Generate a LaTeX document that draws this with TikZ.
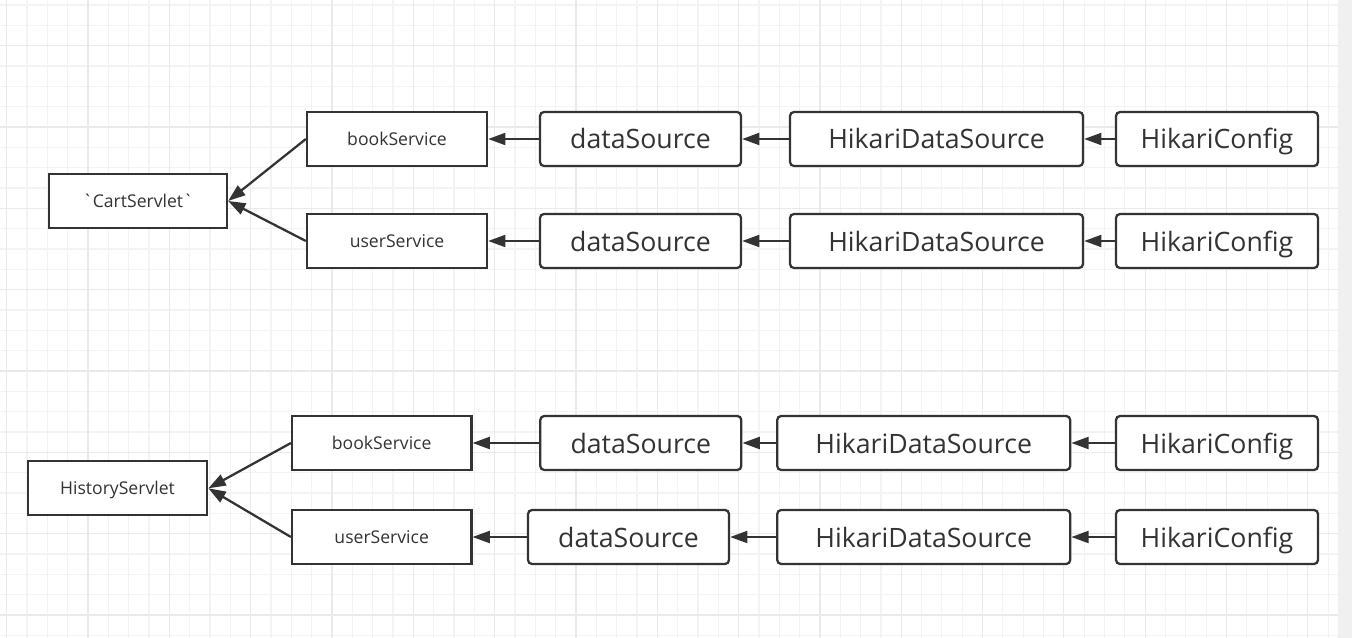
\documentclass[tikz,border=0pt]{standalone}
\usepackage{fontspec}
\setmainfont{Open Sans}
\usetikzlibrary{arrows.meta}

\definecolor{boxgray}{HTML}{333333}
\definecolor{gridminor}{HTML}{F3F3F3}
\definecolor{gridmajor}{HTML}{EAEAEA}
\definecolor{strip}{HTML}{F0F0F0}

\tikzset{
  box/.style={draw=boxgray, line width=1.7pt, text=boxgray, fill=white, inner sep=0pt,
    minimum height=40.5pt, text height=13pt, text depth=3pt,
    font=\fontsize{13.2}{15}\selectfont},
  bean/.style={box, rounded corners=3pt, text height=19pt, text depth=4pt,
    font=\fontsize{20}{24}\selectfont},
  dep/.style={draw=boxgray, line width=1.7pt, -{Triangle[length=13pt,width=9pt]}},
}

\begin{document}
\begin{tikzpicture}[x=0.75pt,y=-0.75pt]
  \useasboundingbox (0,0) rectangle (1352,638);
  % background grid
  \fill[white] (0,0) rectangle (1352,638);
  \fill[strip] (1338,0) rectangle (1352,638);
  \foreach \i in {0,...,65}
    \draw[gridminor, line width=0.9pt] ({6.7+20.33*\i},0) -- ({6.7+20.33*\i},638);
  \foreach \i in {0,...,31}
    \draw[gridminor, line width=0.9pt] (0,{5+20.33*\i}) -- (1338,{5+20.33*\i});
  \foreach \i in {0,4,...,64}
    \draw[gridmajor, line width=0.9pt] ({6.7+20.33*\i},0) -- ({6.7+20.33*\i},638);
  \foreach \i in {2,6,...,30}
    \draw[gridmajor, line width=0.9pt] (0,{5+20.33*\i}) -- (1338,{5+20.33*\i});

  % CartServlet
  \node[box, minimum width=133.5pt] (cart) at (138,201) {\textasciigrave CartServlet\textasciigrave};
  \node[box, minimum width=135pt] (book1) at (397,139) {bookService};
  \node[box, minimum width=135pt] (user1) at (397,241) {userService};
  \node[bean, minimum width=150.75pt] (ds1) at (640.5,139) {dataSource};
  \node[bean, minimum width=150.75pt] (ds2) at (640.5,241) {dataSource};
  \node[bean, minimum width=219.75pt] (hds1) at (936.5,139) {HikariDataSource};
  \node[bean, minimum width=219.75pt] (hds2) at (936.5,241) {HikariDataSource};
  \node[bean, minimum width=151.5pt] (cfg1) at (1217,139) {HikariConfig};
  \node[bean, minimum width=151.5pt] (cfg2) at (1217,241) {HikariConfig};

  % HistoryServlet
  \node[box, minimum width=134.7pt] (hist) at (117.5,488.3) {HistoryServlet};
  \node[box, minimum width=134.5pt] (book2) at (381.7,443) {bookService};
  \node[box, minimum width=134.5pt] (user2) at (381.7,537) {userService};
  \node[bean, minimum width=150.75pt] (ds3) at (640.8,443) {dataSource};
  \node[bean, minimum width=150.75pt] (ds4) at (628.5,537) {dataSource};
  \node[bean, minimum width=219.75pt] (hds3) at (923.7,443) {HikariDataSource};
  \node[bean, minimum width=219.75pt] (hds4) at (923.7,537) {HikariDataSource};
  \node[bean, minimum width=151.5pt] (cfg3) at (1217,443) {HikariConfig};
  \node[bean, minimum width=151.5pt] (cfg4) at (1217,537) {HikariConfig};

  \draw[dep] (book1.west) -- (cart.east);
  \draw[dep] (user1.west) -- (cart.east);
  \draw[dep] (ds1) -- (book1);
  \draw[dep] (ds2) -- (user1);
  \draw[dep] (hds1) -- (ds1);
  \draw[dep] (hds2) -- (ds2);
  \draw[dep] (cfg1) -- (hds1);
  \draw[dep] (cfg2) -- (hds2);

  \draw[dep] (book2.west) -- (hist.east);
  \draw[dep] (user2.west) -- (hist.east);
  \draw[dep] (ds3) -- (book2);
  \draw[dep] (ds4) -- (user2);
  \draw[dep] (hds3) -- (ds3);
  \draw[dep] (hds4) -- (ds4);
  \draw[dep] (cfg3) -- (hds3);
  \draw[dep] (cfg4) -- (hds4);
\end{tikzpicture}
\end{document}
